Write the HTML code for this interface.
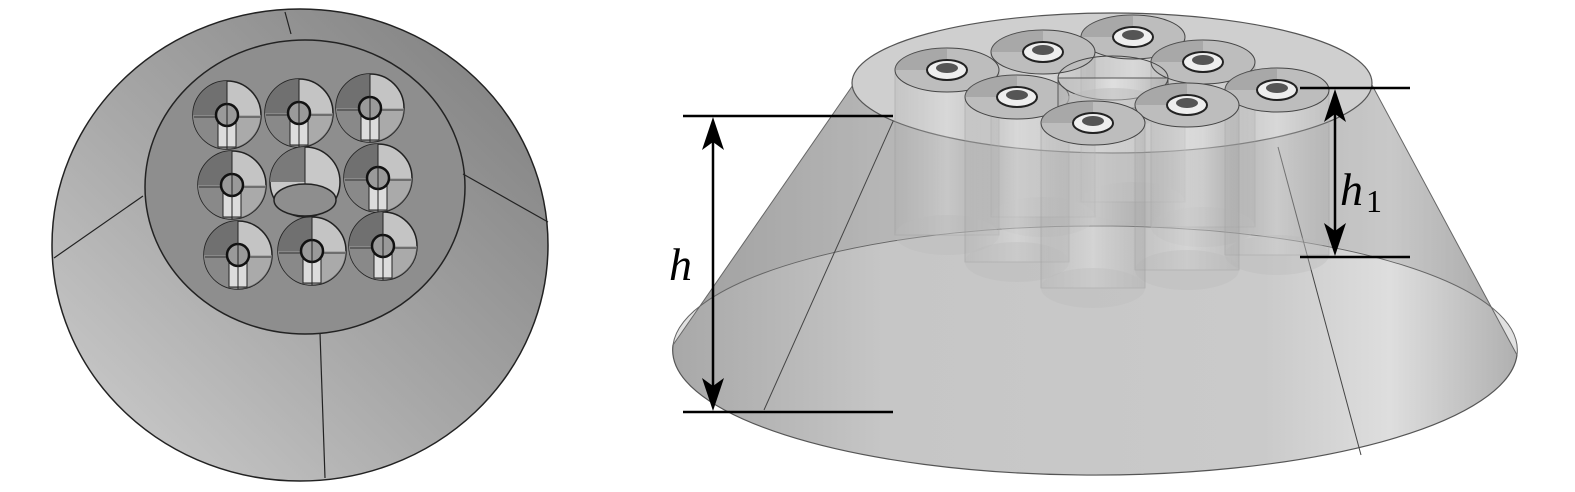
<!DOCTYPE html>
<html><head><meta charset="utf-8"><style>
html,body{margin:0;padding:0;background:#fff;}
svg{display:block;}
</style></head><body>
<svg width="1575" height="492" viewBox="0 0 1575 492" xmlns="http://www.w3.org/2000/svg">
<defs>
<linearGradient id="lg1" x1="0" y1="1" x2="1" y2="0">
<stop offset="0" stop-color="#d0d0d0"/><stop offset="0.45" stop-color="#a8a8a8"/><stop offset="1" stop-color="#7c7c7c"/>
</linearGradient>
<linearGradient id="cone" x1="0" y1="0" x2="1" y2="0">
<stop offset="0" stop-color="#a8a8a8"/><stop offset="0.25" stop-color="#c6c6c6"/><stop offset="0.7" stop-color="#cacaca"/><stop offset="0.85" stop-color="#dedede"/><stop offset="1" stop-color="#b0b0b0"/>
</linearGradient>
<linearGradient id="coneTop" x1="0" y1="0" x2="0" y2="1">
<stop offset="0" stop-color="#000" stop-opacity="0.12"/><stop offset="1" stop-color="#000" stop-opacity="0"/>
</linearGradient>
<linearGradient id="tube" x1="0" y1="0" x2="1" y2="0">
<stop offset="0" stop-color="#aaa" stop-opacity="0.4"/><stop offset="0.5" stop-color="#eee" stop-opacity="0.5"/><stop offset="1" stop-color="#999" stop-opacity="0.4"/>
</linearGradient>
<g id="hl">
<circle r="34" fill="#c4c4c4" stroke="#222" stroke-width="1.5"/>
<path d="M0,-34 A34,34 0 0 0 -34,0 A34,34 0 0 0 0,34 Z" fill="#707070"/>
<path d="M-34,0 A34,34 0 0 0 34,0 Z" fill="#9a9a9a" opacity="0.6"/>
<line x1="-33" y1="2" x2="33" y2="2" stroke="#333" stroke-width="1"/>
<rect x="-9" y="2" width="18" height="30" fill="#dcdcdc" stroke="#222" stroke-width="1"/>
<circle r="11" fill="#9a9a9a" stroke="#111" stroke-width="2.5"/>
<line x1="0" y1="-34" x2="0" y2="34" stroke="#222" stroke-width="1"/>
</g>
<g id="tb">
<rect x="-52" y="0" width="104" height="165" fill="url(#tube)" stroke="#999" stroke-width="0.8" opacity="0.6"/>
<ellipse cx="0" cy="165" rx="52" ry="20" fill="#bbb" opacity="0.35"/>
<ellipse rx="52" ry="22" fill="#bdbdbd" stroke="#444" stroke-width="1"/>
<path d="M-52,0 A52,22 0 0 1 0,-22 L0,0 Z" fill="#8a8a8a" opacity="0.4"/>
<ellipse rx="20" ry="10" fill="#eee" stroke="#222" stroke-width="2"/>
<ellipse cy="-2" rx="11" ry="5" fill="#555"/>
</g>
</defs>

<!-- LEFT -->
<ellipse cx="300" cy="245" rx="248" ry="236" fill="url(#lg1)" stroke="#222" stroke-width="1.5"/>
<ellipse cx="305" cy="187" rx="160" ry="147" fill="#8e8e8e" stroke="#222" stroke-width="1.5"/>
<line x1="285" y1="12" x2="291" y2="34" stroke="#222" stroke-width="1.2"/>
<line x1="54" y1="258" x2="143" y2="196" stroke="#222" stroke-width="1.2"/>
<line x1="463" y1="174" x2="548" y2="222" stroke="#222" stroke-width="1.2"/>
<line x1="320" y1="333" x2="325" y2="478" stroke="#222" stroke-width="1.2"/>
<use href="#hl" x="227" y="115"/>
<use href="#hl" x="299" y="113"/>
<use href="#hl" x="370" y="108"/>
<use href="#hl" x="232" y="185"/>
<use href="#hl" x="378" y="178"/>
<use href="#hl" x="238" y="255"/>
<use href="#hl" x="312" y="251"/>
<use href="#hl" x="383" y="246"/>
<circle cx="305" cy="182" r="35" fill="#c8c8c8" stroke="#222" stroke-width="1.5"/>
<path d="M270,182 A35,35 0 0 1 305,147 L305,182 Z" fill="#7a7a7a"/>
<ellipse cx="305" cy="200" rx="31" ry="16" fill="#8e8e8e" stroke="#222" stroke-width="1.5"/>
<line x1="305" y1="147" x2="305" y2="184" stroke="#222" stroke-width="1"/>

<!-- RIGHT cone -->
<path d="M853,85 L673,345 A422,125 0 0 0 1517,355 L1372,85 Z" fill="url(#cone)"/>
<path d="M853,85 L673,345 A422,125 0 0 1 1517,355 L1372,85 Z" fill="#888" opacity="0.25"/>
<path d="M673,345 A422,125 0 0 0 1517,355" fill="none" stroke="#555" stroke-width="1.2"/>
<path d="M673,345 A422,124 0 0 1 1517,355" fill="none" stroke="#666" stroke-width="1"/>
<line x1="853" y1="85" x2="673" y2="345" stroke="#666" stroke-width="1"/>
<line x1="1372" y1="85" x2="1517" y2="355" stroke="#666" stroke-width="1"/>
<line x1="895" y1="117" x2="764" y2="410" stroke="#444" stroke-width="1"/>
<line x1="1278" y1="147" x2="1361" y2="455" stroke="#444" stroke-width="1"/>
<ellipse cx="1112" cy="83" rx="260" ry="70" fill="#cfcfcf" stroke="#555" stroke-width="1.2"/>
<use href="#tb" x="1133" y="37"/>
<use href="#tb" x="1043" y="52"/>
<use href="#tb" x="1203" y="62"/>
<use href="#tb" x="947" y="70"/>
<use href="#tb" x="1277" y="90"/>
<use href="#tb" x="1017" y="97"/>
<g>
<rect x="1058" y="78" width="110" height="30" fill="url(#tube)" stroke="#555" stroke-width="1"/>
<ellipse cx="1113" cy="78" rx="55" ry="22" fill="none" stroke="#444" stroke-width="1"/>
<ellipse cx="1113" cy="108" rx="55" ry="20" fill="#bbb" opacity="0.5"/>
</g>
<use href="#tb" x="1187" y="105"/>
<use href="#tb" x="1093" y="123"/>

<!-- dimensions -->
<g stroke="#000" stroke-width="2.5">
<line x1="683" y1="116" x2="893" y2="116"/>
<line x1="683" y1="412" x2="893" y2="412"/>
<line x1="713" y1="130" x2="713" y2="398"/>
<line x1="1300" y1="88" x2="1410" y2="88"/>
<line x1="1300" y1="257" x2="1410" y2="257"/>
<line x1="1335" y1="102" x2="1335" y2="243"/>
</g>
<g fill="#000">
<path d="M713,117 L702,150 L713,142 L724,150 Z"/>
<path d="M713,411 L702,378 L713,386 L724,378 Z"/>
<path d="M1335,89 L1324,122 L1335,114 L1346,122 Z"/>
<path d="M1335,256 L1324,223 L1335,231 L1346,223 Z"/>
</g>
<text x="669" y="280" font-family="Liberation Serif, serif" font-style="italic" font-size="46">h</text>
<text x="1340" y="205" font-family="Liberation Serif, serif" font-style="italic" font-size="46">h</text>
<text x="1366" y="212" font-family="Liberation Serif, serif" font-size="32">1</text>
</svg>
</body></html>
